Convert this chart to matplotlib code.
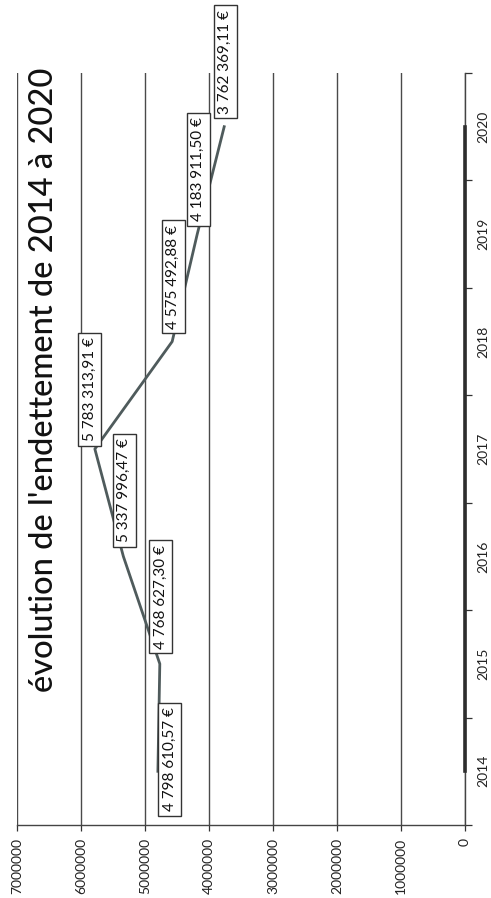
import matplotlib
matplotlib.use("Agg")
import matplotlib.pyplot as plt
import numpy as np

# Donnees : endettement de la commune, 2014 a 2020
annees = [2014, 2015, 2016, 2017, 2018, 2019, 2020]
endettement = [4798610.57, 4768627.30, 5337996.47, 5783313.91,
               4575492.88, 4183911.50, 3762369.11]
serie_zero = [0, 0, 0, 0, 0, 0, 0]
graduations = [0, 1000000, 2000000, 3000000, 4000000, 5000000, 6000000, 7000000]
titre = "évolution de l'endettement de 2014 à 2020"

# decalage des etiquettes (pixels, repere de l'image)
decal_px = [(12, -40), (1, 15), (1, 14), (-5, 8), (1, 13), (1, 13), (1, 13)]

plt.rcParams['font.family'] = ['Lato', 'DejaVu Sans']

W, H = 491, 898
fig = plt.figure(figsize=(W / 100, H / 100), dpi=100)
ax = fig.add_axes([17 / W, 1 - 825 / H, (465 - 17) / W, (825 - 73) / H])

# le graphique est tourne de 90 degres : valeurs en x (inverse), annees en y
ax.set_xlim(7000000, 0)
ax.set_ylim(2013.5, 2020.5)

ax.set_xticks(graduations)
ax.set_xticklabels([str(g) for g in graduations], rotation=90, fontsize=10, color='#222')
ax.tick_params(axis='x', direction='out', length=4, width=0.9, color='#333', pad=5)
ax.grid(axis='x', color='#4a4a4a', lw=1.0)
ax.set_axisbelow(True)

ax.yaxis.tick_right()
ax.set_yticks(annees)
ax.set_yticklabels([str(a) for a in annees], rotation=90, va='center', fontsize=10, color='#222')
ax.set_yticks(np.arange(2013.5, 2021, 1), minor=True)
ax.tick_params(axis='y', which='major', length=0, pad=9)
ax.tick_params(axis='y', which='minor', direction='out', length=5, width=0.9, color='#333')

for s in ['top', 'left']:
    ax.spines[s].set_visible(False)
ax.spines['bottom'].set_color('#444')
ax.spines['bottom'].set_linewidth(1.0)
ax.spines['right'].set_color('#444')
ax.spines['right'].set_linewidth(1.0)

ax.plot(serie_zero, annees, color='#2e2e2e', lw=2.6, clip_on=False, zorder=3)
ax.plot(endettement, annees, color='#4f5b5c', lw=2.0, zorder=3)

def format_euro(v):
    return f"{v:,.2f}".replace(",", " ").replace(".", ",") + " €"

for v, a, (dx, dy) in zip(endettement, annees, decal_px):
    ax.annotate(format_euro(v), xy=(v, a), xytext=(dx * 0.72, dy * 0.72),
                textcoords='offset points', rotation=90, ha='center', va='bottom',
                fontsize=11, color='#111', zorder=4,
                bbox=dict(boxstyle='square,pad=0.3', fc='white', ec='#333', lw=1.0))

fig.text(44 / W, 1 - 380 / H, titre, rotation=90, ha='center', va='center',
         fontsize=23.5, fontweight='medium', color='#111')

fig.savefig("out.png", dpi=100)
